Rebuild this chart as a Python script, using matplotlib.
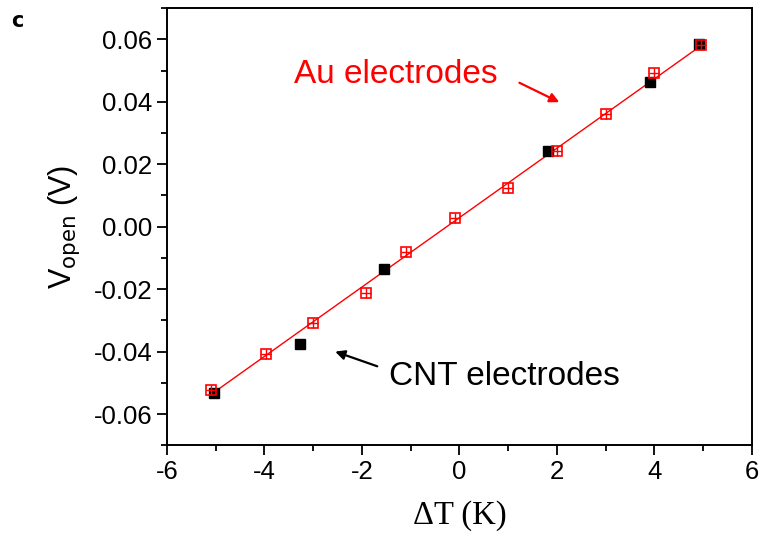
import matplotlib
matplotlib.use("Agg")
import matplotlib.pyplot as plt
import numpy as np
from matplotlib.ticker import MultipleLocator

# Au electrodes (red open squares)
au_dT = [-5.1, -3.97, -3.0, -1.91, -1.09, -0.08, 1.0, 2.0, 3.0, 4.0, 4.95]
au_V = [-0.0523, -0.0409, -0.0307, -0.0211, -0.0082, 0.0029, 0.0125, 0.0241, 0.0360, 0.0492, 0.0582]

# CNT electrodes (black filled squares)
cnt_dT = [-5.03, -3.26, -1.54, 1.81, 3.91, 4.92]
cnt_V = [-0.0532, -0.0375, -0.0134, 0.0244, 0.0463, 0.0584]

plt.rcParams['font.family'] = ['Liberation Sans', 'DejaVu Sans']

fig = plt.figure(figsize=(7.65, 5.45), dpi=100)
ax = fig.add_axes([0.218, 0.183, 0.765, 0.802])

# linear fit through the Au data
k, b = np.polyfit(au_dT, au_V, 1)
xs = np.array([min(au_dT), max(au_dT)])
ax.plot(xs, k * xs + b, color='red', lw=1.0, zorder=2)

ax.plot(cnt_dT, cnt_V, 's', color='black', ms=7.5, zorder=3)
ax.plot(au_dT, au_V, 's', mfc='none', mec='red', mew=1.2, ms=7, zorder=4)
ax.plot(au_dT, au_V, '+', color='red', mew=1.0, ms=7, zorder=4)

ax.set_xlim(-6, 6)
ax.set_ylim(-0.07, 0.07)
ax.xaxis.set_major_locator(MultipleLocator(2))
ax.xaxis.set_minor_locator(MultipleLocator(1))
ax.yaxis.set_major_locator(MultipleLocator(0.02))
ax.yaxis.set_minor_locator(MultipleLocator(0.01))
ax.yaxis.set_major_formatter(matplotlib.ticker.FormatStrFormatter('%.2f'))
ax.xaxis.set_major_formatter(matplotlib.ticker.FormatStrFormatter('%d'))

ax.tick_params(which='both', direction='out', top=False, right=False, labelsize=18.5, width=1.3)
ax.tick_params(which='major', length=7)
ax.tick_params(which='minor', length=4)
for s in ax.spines.values():
    s.set_linewidth(1.4)

ax.set_ylabel(r'V$_{\rm open}$ (V)', fontsize=22, labelpad=8)
ax.set_xlabel('\u0394T (K)', fontsize=23.5, family='Liberation Serif', labelpad=12)

ax.annotate('', xy=(2.1, 0.0395), xytext=(1.18, 0.0465),
            arrowprops=dict(arrowstyle='-|>', color='red', lw=1.6, mutation_scale=14))
ax.text(-3.4, 0.0487, 'Au electrodes', color='red', fontsize=24, va='center')

ax.annotate('', xy=(-2.60, -0.0397), xytext=(-1.63, -0.0450),
            arrowprops=dict(arrowstyle='-|>', color='black', lw=1.6, mutation_scale=14))
ax.text(-1.45, -0.0480, 'CNT electrodes', color='black', fontsize=24, va='center')

fig.text(0.014, 0.95, 'c', fontsize=15, fontweight='bold', family='DejaVu Sans')

fig.savefig('out.png', dpi=100)
